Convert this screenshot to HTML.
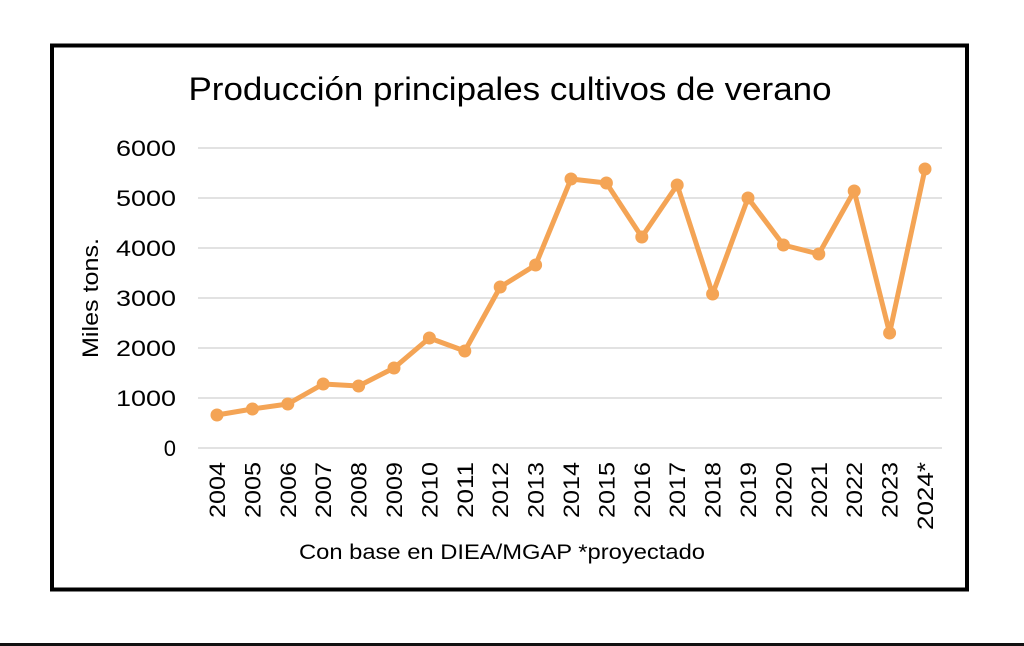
<!DOCTYPE html>
<html><head><meta charset="utf-8"><style>
html,body{margin:0;padding:0;background:#fff;width:1024px;height:646px;overflow:hidden}
</style></head><body>
<svg width="1024" height="646" viewBox="0 0 1024 646" xmlns="http://www.w3.org/2000/svg" font-family="Liberation Sans, sans-serif">
<rect x="0" y="0" width="1024" height="646" fill="#fff"/>
<rect x="52" y="45.5" width="915" height="544" fill="#fff" stroke="#000" stroke-width="4"/>
<rect x="0" y="643" width="1024" height="3" fill="#111"/>
<text x="510" y="100" font-size="32" text-anchor="middle" textLength="643" lengthAdjust="spacingAndGlyphs" fill="#000">Producción principales cultivos de verano</text>
<g stroke="#d9d9d9" stroke-width="1.5">
<line x1="198" x2="942" y1="148" y2="148"/><line x1="198" x2="942" y1="198" y2="198"/>
<line x1="198" x2="942" y1="248" y2="248"/><line x1="198" x2="942" y1="298" y2="298"/>
<line x1="198" x2="942" y1="348" y2="348"/><line x1="198" x2="942" y1="398" y2="398"/>
<line x1="198" x2="942" y1="448" y2="448"/>
</g>
<g font-size="22" text-anchor="end" fill="#000">
<text x="176" y="156" textLength="60" lengthAdjust="spacingAndGlyphs">6000</text><text x="176" y="206" textLength="60" lengthAdjust="spacingAndGlyphs">5000</text><text x="176" y="256" textLength="60" lengthAdjust="spacingAndGlyphs">4000</text>
<text x="176" y="306" textLength="60" lengthAdjust="spacingAndGlyphs">3000</text><text x="176" y="356" textLength="60" lengthAdjust="spacingAndGlyphs">2000</text><text x="176" y="406" textLength="60" lengthAdjust="spacingAndGlyphs">1000</text>
<text x="176" y="456">0</text>
</g>
<text transform="translate(98,298) rotate(-90)" font-size="22" text-anchor="middle" textLength="120" lengthAdjust="spacingAndGlyphs" fill="#000">Miles tons.</text>
<g font-size="22" text-anchor="end" fill="#000">
<text transform="translate(225,462) rotate(-90)" textLength="56" lengthAdjust="spacingAndGlyphs">2004</text>
<text transform="translate(260.4,462) rotate(-90)" textLength="56" lengthAdjust="spacingAndGlyphs">2005</text>
<text transform="translate(295.8,462) rotate(-90)" textLength="56" lengthAdjust="spacingAndGlyphs">2006</text>
<text transform="translate(331.2,462) rotate(-90)" textLength="56" lengthAdjust="spacingAndGlyphs">2007</text>
<text transform="translate(366.6,462) rotate(-90)" textLength="56" lengthAdjust="spacingAndGlyphs">2008</text>
<text transform="translate(402,462) rotate(-90)" textLength="56" lengthAdjust="spacingAndGlyphs">2009</text>
<text transform="translate(437.4,462) rotate(-90)" textLength="56" lengthAdjust="spacingAndGlyphs">2010</text>
<text transform="translate(472.8,462) rotate(-90)" textLength="56" lengthAdjust="spacingAndGlyphs">2011</text>
<text transform="translate(508.2,462) rotate(-90)" textLength="56" lengthAdjust="spacingAndGlyphs">2012</text>
<text transform="translate(543.6,462) rotate(-90)" textLength="56" lengthAdjust="spacingAndGlyphs">2013</text>
<text transform="translate(579,462) rotate(-90)" textLength="56" lengthAdjust="spacingAndGlyphs">2014</text>
<text transform="translate(614.4,462) rotate(-90)" textLength="56" lengthAdjust="spacingAndGlyphs">2015</text>
<text transform="translate(649.8,462) rotate(-90)" textLength="56" lengthAdjust="spacingAndGlyphs">2016</text>
<text transform="translate(685.2,462) rotate(-90)" textLength="56" lengthAdjust="spacingAndGlyphs">2017</text>
<text transform="translate(720.6,462) rotate(-90)" textLength="56" lengthAdjust="spacingAndGlyphs">2018</text>
<text transform="translate(756,462) rotate(-90)" textLength="56" lengthAdjust="spacingAndGlyphs">2019</text>
<text transform="translate(791.4,462) rotate(-90)" textLength="56" lengthAdjust="spacingAndGlyphs">2020</text>
<text transform="translate(826.8,462) rotate(-90)" textLength="56" lengthAdjust="spacingAndGlyphs">2021</text>
<text transform="translate(862.2,462) rotate(-90)" textLength="56" lengthAdjust="spacingAndGlyphs">2022</text>
<text transform="translate(897.6,462) rotate(-90)" textLength="56" lengthAdjust="spacingAndGlyphs">2023</text>
<text transform="translate(933,462) rotate(-90)" textLength="68" lengthAdjust="spacingAndGlyphs">2024*</text>
</g>
<text x="502" y="559" font-size="21" text-anchor="middle" textLength="406" lengthAdjust="spacingAndGlyphs" fill="#000">Con base en DIEA/MGAP *proyectado</text>
<polyline fill="none" stroke="#F4A455" stroke-width="5" stroke-linejoin="round" points="217,415 252.4,409 287.8,404 323.2,384 358.6,386 394,368 429.4,338 464.8,351 500.2,287 535.6,265 571,179 606.4,183 641.8,237 677.2,185 712.6,294 748,198 783.4,245 818.8,254 854.2,191 889.6,333 925,169"/>
<g fill="#F4A455">
<circle cx="217" cy="415" r="6.5"/><circle cx="252.4" cy="409" r="6.5"/><circle cx="287.8" cy="404" r="6.5"/>
<circle cx="323.2" cy="384" r="6.5"/><circle cx="358.6" cy="386" r="6.5"/><circle cx="394" cy="368" r="6.5"/>
<circle cx="429.4" cy="338" r="6.5"/><circle cx="464.8" cy="351" r="6.5"/><circle cx="500.2" cy="287" r="6.5"/>
<circle cx="535.6" cy="265" r="6.5"/><circle cx="571" cy="179" r="6.5"/><circle cx="606.4" cy="183" r="6.5"/>
<circle cx="641.8" cy="237" r="6.5"/><circle cx="677.2" cy="185" r="6.5"/><circle cx="712.6" cy="294" r="6.5"/>
<circle cx="748" cy="198" r="6.5"/><circle cx="783.4" cy="245" r="6.5"/><circle cx="818.8" cy="254" r="6.5"/>
<circle cx="854.2" cy="191" r="6.5"/><circle cx="889.6" cy="333" r="6.5"/><circle cx="925" cy="169" r="6.5"/>
</g>
</svg>
</body></html>
